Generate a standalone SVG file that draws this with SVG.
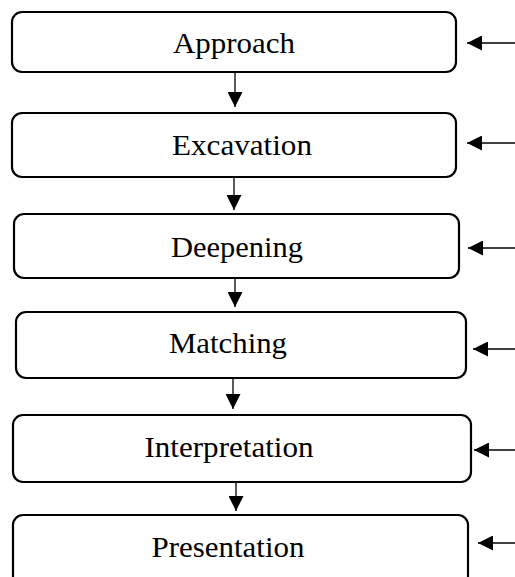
<svg xmlns="http://www.w3.org/2000/svg" width="515" height="577" viewBox="0 0 515 577">
<style>
.box{fill:#fff;stroke:#000;stroke-width:2.2}
.lbl{font-family:"Liberation Serif","Times New Roman",serif;font-size:30px;fill:#000;text-anchor:middle}
.c{stroke:#000;stroke-width:1.3;fill:none}
</style>
<defs>
<marker id="ah" markerWidth="15" markerHeight="15" viewBox="0 0 15 15" refX="15" refY="7.5" orient="auto" markerUnits="userSpaceOnUse">
<path d="M0,0 L15,7.5 L0,15 Z" fill="#000"/>
</marker>
</defs>
<rect width="515" height="577" fill="#fff"/>
<g id="n1"><rect class="box" x="12" y="12" width="444" height="60" rx="10"/><text class="lbl" x="234" y="53" textLength="122" lengthAdjust="spacingAndGlyphs">Approach</text></g>
<g id="n2"><rect class="box" x="12" y="113" width="444" height="64" rx="10"/><text class="lbl" x="242" y="155" textLength="140" lengthAdjust="spacingAndGlyphs">Excavation</text></g>
<g id="n3"><rect class="box" x="14" y="214" width="445" height="64" rx="10"/><text class="lbl" x="237" y="257" textLength="132" lengthAdjust="spacingAndGlyphs">Deepening</text></g>
<g id="n4"><rect class="box" x="16" y="312" width="450" height="66" rx="10"/><text class="lbl" x="228" y="353" textLength="118" lengthAdjust="spacingAndGlyphs">Matching</text></g>
<g id="n5"><rect class="box" x="13" y="415" width="458" height="67" rx="10"/><text class="lbl" x="229" y="457" textLength="169" lengthAdjust="spacingAndGlyphs">Interpretation</text></g>
<g id="n6"><rect class="box" x="13" y="515" width="455" height="75" rx="10"/><text class="lbl" x="228" y="557" textLength="153" lengthAdjust="spacingAndGlyphs">Presentation</text></g>
<g id="connectors">
<line class="c" x1="235" y1="73" x2="235" y2="107" marker-end="url(#ah)"/>
<line class="c" x1="234" y1="178" x2="234" y2="210" marker-end="url(#ah)"/>
<line class="c" x1="235" y1="279" x2="235" y2="307" marker-end="url(#ah)"/>
<line class="c" x1="233" y1="379" x2="233" y2="409" marker-end="url(#ah)"/>
<line class="c" x1="236" y1="481" x2="236" y2="511" marker-end="url(#ah)"/>
<line class="c" x1="515" y1="43" x2="467" y2="43" marker-end="url(#ah)"/>
<line class="c" x1="515" y1="143" x2="467" y2="143" marker-end="url(#ah)"/>
<line class="c" x1="515" y1="248" x2="468" y2="248" marker-end="url(#ah)"/>
<line class="c" x1="515" y1="349" x2="473" y2="349" marker-end="url(#ah)"/>
<line class="c" x1="515" y1="450" x2="474" y2="450" marker-end="url(#ah)"/>
<line class="c" x1="515" y1="543" x2="478" y2="543" marker-end="url(#ah)"/>
</g>
</svg>
